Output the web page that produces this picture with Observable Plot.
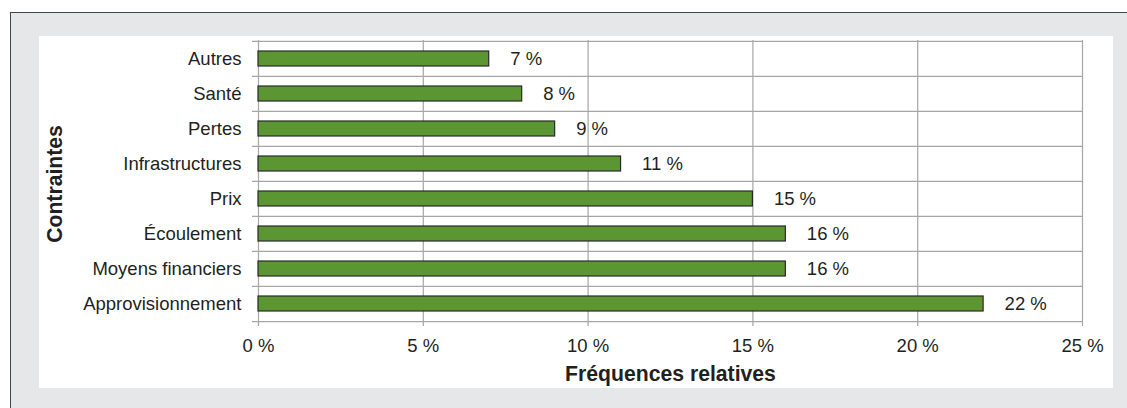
<!DOCTYPE html>
<html>
<head>
<meta charset="utf-8">
<script src="https://cdn.jsdelivr.net/npm/d3@7"></script>
<script src="https://cdn.jsdelivr.net/npm/@observablehq/plot@0.6"></script>
<style>
  body { margin: 0; background: white; }
  #wrap { position: relative; width: 1127px; height: 408px; overflow: hidden; background: white; font-family: "Liberation Sans", Arial, sans-serif; }
  #outer { position: absolute; left: 10px; top: 12px; width: 1140px; height: 420px; background: #e6e7e8; border-left: 1px solid #454545; border-top: 1px solid #454545; }
  #panel { position: absolute; left: 39px; top: 36px; width: 1074px; height: 352px; background: white; }
  #chart { position: absolute; left: 0; top: 0; }
</style>
</head>
<body>
<div id="wrap">
  <div id="outer"></div>
  <div id="panel"></div>
  <div id="chart"></div>
</div>
<script>
const categories = ["Autres", "Santé", "Pertes", "Infrastructures", "Prix", "Écoulement", "Moyens financiers", "Approvisionnement"];
const values = [7, 8, 9, 11, 15, 16, 16, 22];
const xTicks = [0, 5, 10, 15, 20, 25];
const xTitle = "Fréquences relatives";
const yTitle = "Contraintes";

const data = categories.map((c, i) => ({category: c, value: values[i]}));

const W = 1127, H = 408;
const mTop = 40, mBottom = 87, mLeft = 258, mRight = 45;
const step = (H - mTop - mBottom) / categories.length;
const textColor = "#231f20";
const gridColor = "#a6a6a6";
const fs = 18.5;
const fsTitle = 21.2;

const chart = Plot.plot({
  width: W,
  height: H,
  marginTop: mTop,
  marginBottom: mBottom,
  marginLeft: mLeft,
  marginRight: mRight,
  style: {background: "transparent", fontFamily: "'Liberation Sans', Arial, sans-serif", fontSize: fs + "px", color: textColor},
  x: {domain: [0, 25], ticks: xTicks},
  y: {type: "band", domain: categories, padding: 0},
  marks: [
    Plot.ruleX(xTicks, {x: d => d, stroke: gridColor, strokeWidth: 1.2, insetBottom: -5}),
    Plot.ruleY(categories, {y: d => d, dy: -step / 2, x1: 0, x2: 25, stroke: gridColor, strokeWidth: 1.2, insetLeft: -6}),
    Plot.ruleY([categories[categories.length - 1]], {y: d => d, dy: step / 2, x1: 0, x2: 25, stroke: gridColor, strokeWidth: 1.2, insetLeft: -6}),
    Plot.barX(data, {x: "value", y: "category", fill: "#5b9633", stroke: "#2a2a2a", strokeWidth: 1.2, insetTop: 10, insetBottom: 10}),
    Plot.text(data, {x: "value", y: "category", text: d => d.value + "\u00a0%", textAnchor: "start", dx: 21, fill: textColor, fontSize: fs}),
    Plot.axisX({ticks: xTicks, tickSize: 0, tickPadding: 17, tickFormat: d => d + "\u00a0%", label: null, fontSize: fs, fill: textColor}),
    Plot.axisY({tickSize: 0, tickPadding: 17, label: null, fontSize: fs, fill: textColor}),
    Plot.text([xTitle], {frameAnchor: "bottom", lineAnchor: "bottom", dy: 59, fontWeight: "bold", fontSize: fsTitle, fill: textColor}),
    Plot.text([yTitle], {frameAnchor: "left", textAnchor: "middle", dx: -203, dy: 3, rotate: -90, fontWeight: "bold", fontSize: fsTitle, fill: textColor})
  ]
});
document.getElementById("chart").appendChild(chart);
</script>
</body>
</html>
